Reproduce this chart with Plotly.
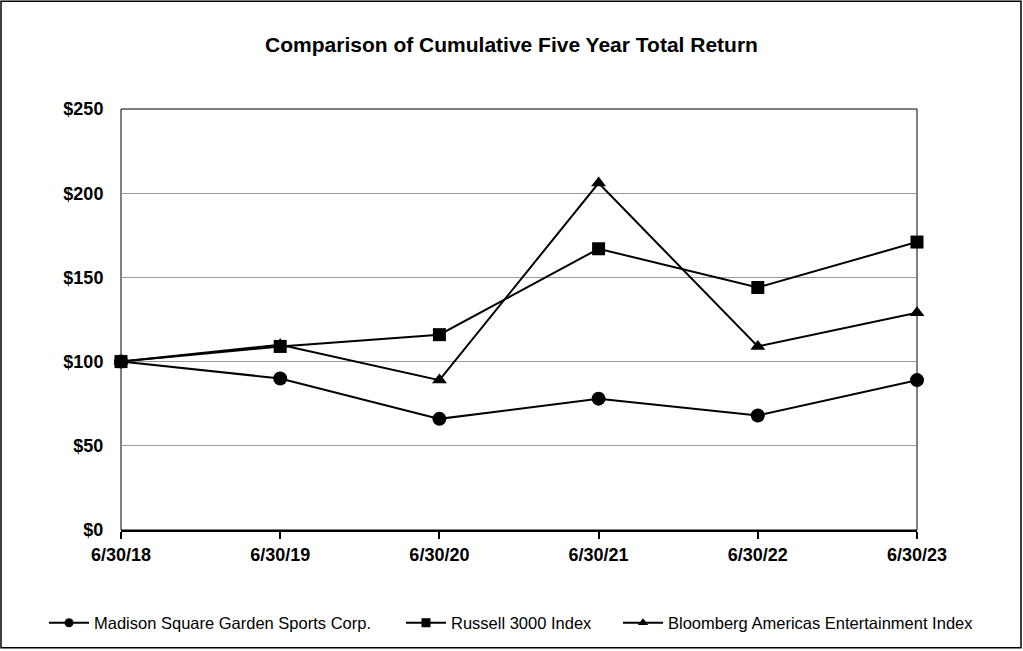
import plotly.graph_objects as go

categories = ["6/30/18", "6/30/19", "6/30/20", "6/30/21", "6/30/22", "6/30/23"]
msgs = [100, 90, 66, 78, 68, 89]
russell = [100, 109, 116, 167, 144, 171]
bloomberg = [100, 110, 89, 206, 109, 129]
y_ticks = [0, 50, 100, 150, 200, 250]
y_tick_labels = ["$0", "$50", "$100", "$150", "$200", "$250"]

xs = list(range(len(categories)))

L, R, T, B = 121, 106, 109, 120
W, H = 1023, 651
pw, ph = W - L - R, H - T - B

fig = go.Figure()
series = [
    ("Madison Square Garden Sports Corp.", msgs, "circle", 14, "legend", 49),
    ("Russell 3000 Index", russell, "square", 13, "legend2", 406),
    ("Bloomberg Americas Entertainment Index", bloomberg, "triangle-up", 13, "legend3", 623),
]
legend_font = dict(family="Arial, Liberation Sans", size=16.5, color="black")
legends = {}
for name, vals, sym, size, lg, lx in series:
    fig.add_trace(go.Scatter(
        x=xs, y=vals, name=name, mode="lines+markers",
        line=dict(color="black", width=2),
        marker=dict(symbol=sym, size=size, color="black"),
        cliponaxis=False, showlegend=False,
    ))
    # legend entry with smaller marker, as in the reference
    fig.add_trace(go.Scatter(
        x=[None], y=[None], name=name, mode="lines+markers",
        line=dict(color="black", width=2),
        marker=dict(symbol=sym, size=9, color="black"),
        legend=lg, showlegend=True,
    ))
    legends[lg] = dict(orientation="h", x=(lx - 5 - L) / pw, xanchor="left",
                       y=(T + ph - 623) / ph, yanchor="middle",
                       font=legend_font, bgcolor="rgba(0,0,0,0)", itemwidth=40)

tick_font = dict(family="Arial, Liberation Sans", size=18, color="black", weight="bold")

fig.update_layout(
    width=W, height=H,
    margin=dict(l=L, r=R, t=T, b=B),
    paper_bgcolor="white", plot_bgcolor="white",
    title=dict(text="Comparison of Cumulative Five Year Total Return",
               x=0.5, xanchor="center", y=1 - 45 / H, yanchor="middle",
               font=dict(family="Arial, Liberation Sans", size=21, color="black", weight="bold")),
    showlegend=True,
    xaxis=dict(range=[0, 5], tickvals=xs, ticktext=categories,
               showgrid=False, zeroline=False,
               showline=True, linecolor="black", linewidth=2, mirror=False,
               ticks="outside", ticklen=7, tickwidth=2, tickcolor="black",
               tickfont=tick_font, fixedrange=True),
    yaxis=dict(range=[0, 250], tickvals=y_ticks, ticktext=y_tick_labels,
               showgrid=True, gridcolor="#999999", gridwidth=1,
               zeroline=False, showline=False, ticks="outside", ticklen=13,
               tickcolor="rgba(0,0,0,0)",
               tickfont=tick_font, fixedrange=True),
    **legends,
)

# plot area box
fig.add_shape(type="rect", xref="paper", yref="paper", x0=0, x1=1, y0=0, y1=1,
              line=dict(color="black", width=1), layer="below")
# outer border
fig.add_shape(type="rect", xref="paper", yref="paper",
              x0=(1 - L) / pw, x1=(W - 2 - L) / pw,
              y0=(T + ph - (H - 2)) / ph, y1=(T + ph - 1) / ph,
              line=dict(color="black", width=1.5))

fig.write_html("out.html", config={"displayModeBar": False},
               post_script="document.body.style.margin='0';document.body.style.padding='0';document.body.style.overflow='hidden';")
